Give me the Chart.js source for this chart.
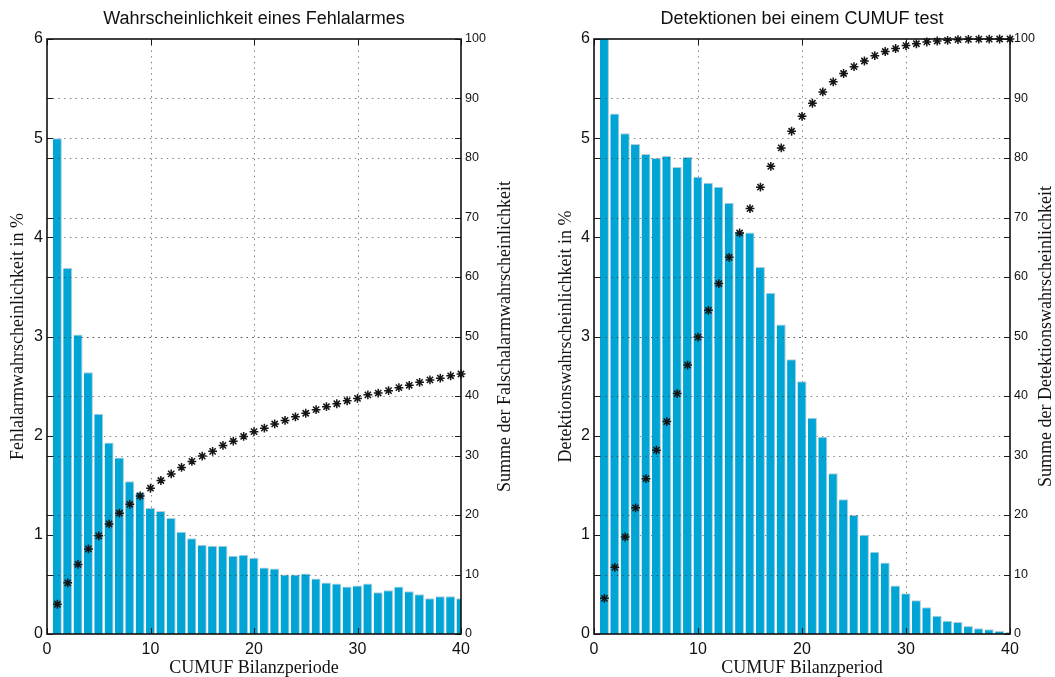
<!DOCTYPE html>
<html>
<head>
<meta charset="utf-8">
<title>CUMUF Bilanzperioden</title>
<script src="https://cdn.jsdelivr.net/npm/chart.js@4.4.1/dist/chart.umd.min.js"></script>
<style>
  html, body { margin: 0; padding: 0; background: #fff; }
  body { width: 1055px; height: 677px; position: relative; overflow: hidden; }
  canvas { position: absolute; top: 0; }
  #falseAlarm { left: 0; }
  #detection { left: 527px; }
</style>
</head>
<body>
<canvas id="falseAlarm" width="527" height="677"></canvas>
<canvas id="detection" width="528" height="677"></canvas>
<script>
// Bilanzperioden 1..40
const periods = [1, 2, 3, 4, 5, 6, 7, 8, 9, 10, 11, 12, 13, 14, 15, 16, 17, 18, 19, 20,
                 21, 22, 23, 24, 25, 26, 27, 28, 29, 30, 31, 32, 33, 34, 35, 36, 37, 38, 39, 40];

// Fehlalarmwahrscheinlichkeit je Periode in %
const falseAlarmPct = [5.00, 3.69, 3.02, 2.64, 2.22, 1.93, 1.78, 1.54, 1.43, 1.27,
                       1.24, 1.17, 1.03, 0.965, 0.90, 0.89, 0.89, 0.79, 0.80, 0.77,
                       0.67, 0.66, 0.60, 0.60, 0.61, 0.56, 0.52, 0.51, 0.48, 0.49,
                       0.51, 0.42, 0.44, 0.48, 0.43, 0.40, 0.36, 0.38, 0.38, 0.36];

// Summe der Falschalarmwahrscheinlichkeit in %
const falseAlarmSum = [5.0, 8.6, 11.7, 14.3, 16.5, 18.5, 20.3, 21.8, 23.2, 24.5,
                       25.8, 26.9, 28.0, 29.0, 29.9, 30.7, 31.7, 32.4, 33.2, 34.0,
                       34.6, 35.3, 35.9, 36.5, 37.1, 37.7, 38.2, 38.7, 39.2, 39.6,
                       40.2, 40.5, 40.9, 41.4, 41.8, 42.3, 42.7, 43.0, 43.4, 43.7];

// Detektionswahrscheinlichkeit je Periode in %
const detectionPct = [6.05, 5.25, 5.05, 4.94, 4.84, 4.80, 4.82, 4.71, 4.81, 4.61,
                      4.55, 4.51, 4.35, 4.06, 4.05, 3.70, 3.44, 3.12, 2.77, 2.55,
                      2.18, 1.99, 1.62, 1.36, 1.20, 1.00, 0.83, 0.72, 0.49, 0.41,
                      0.34, 0.27, 0.185, 0.134, 0.12, 0.08, 0.057, 0.047, 0.03, 0.02];

// Summe der Detektionswahrscheinlichkeit in %
const detectionSum = [6.0, 11.2, 16.3, 21.2, 26.1, 30.9, 35.7, 40.4, 45.2, 49.9,
                      54.4, 58.9, 63.3, 67.4, 71.5, 75.1, 78.6, 81.7, 84.5, 87.0,
                      89.2, 91.1, 92.8, 94.2, 95.35, 96.3, 97.2, 97.9, 98.4, 98.9,
                      99.2, 99.5, 99.66, 99.78, 99.89, 99.94, 99.97, 99.99, 100.0, 100.0];

// Achsenbeschriftungen
const periodTicks = [0, 10, 20, 30, 40];
const pctTicks = [0, 1, 2, 3, 4, 5, 6];
const sumTicks = [0, 10, 20, 30, 40, 50, 60, 70, 80, 90, 100];

const SANS = "'Liberation Sans', Arial, Helvetica, sans-serif";
const SERIF = "'Liberation Serif', 'Times New Roman', serif";
const BAR_BLUE = '#00a5d6';
const BAR_EDGE = '#b4ccd6';
const INK = '#111';
const GRID = 'rgba(50,50,50,0.6)';
const GRID_DASH = [1.5, 4.2];

function pointsOf(values) {
  return periods.map((p, i) => ({ x: p, y: values[i] }));
}

function fixedTicks(values) {
  return scale => { scale.ticks = values.map(v => ({ value: v })); };
}

function hLines(ctx, a, scale) {
  scale.ticks.forEach(t => {
    if (t.value <= scale.min || t.value >= scale.max) return;
    const py = Math.round(scale.getPixelForValue(t.value)) + 0.5;
    ctx.beginPath(); ctx.moveTo(a.left, py); ctx.lineTo(a.right, py); ctx.stroke();
  });
}

// Dotted grid, box frame with inward tick marks and the right-hand axis title
const axesBox = {
  id: 'axesBox',
  beforeDatasetsDraw(chart) {
    const { ctx, chartArea: a, scales: { x, y } } = chart;
    ctx.save();
    ctx.strokeStyle = GRID;
    ctx.lineWidth = 1;
    ctx.setLineDash(GRID_DASH);
    x.ticks.forEach(t => {
      if (t.value <= x.min || t.value >= x.max) return;
      const px = Math.round(x.getPixelForValue(t.value)) + 0.5;
      ctx.beginPath(); ctx.moveTo(px, a.top); ctx.lineTo(px, a.bottom); ctx.stroke();
    });
    hLines(ctx, a, y);
    ctx.restore();
  },
  beforeDatasetDraw(chart, args) {
    if (args.index !== 0) return;
    const { ctx, chartArea: a, scales: { y2 } } = chart;
    ctx.save();
    ctx.strokeStyle = GRID;
    ctx.lineWidth = 1;
    ctx.setLineDash(GRID_DASH);
    hLines(ctx, a, y2);
    ctx.restore();
  },
  afterDatasetsDraw(chart, args, opts) {
    const { ctx, chartArea: a, scales: { x, y, y2 } } = chart;
    const len = 6;
    ctx.save();
    ctx.setLineDash([]);
    ctx.strokeStyle = '#1a1a1a';
    ctx.lineWidth = 1;
    ctx.beginPath();
    x.ticks.forEach(t => {
      const px = Math.round(x.getPixelForValue(t.value)) + 0.5;
      ctx.moveTo(px, a.bottom); ctx.lineTo(px, a.bottom - len);
      ctx.moveTo(px, a.top); ctx.lineTo(px, a.top + len);
    });
    [y, y2].forEach(s => s.ticks.forEach(t => {
      const py = Math.round(s.getPixelForValue(t.value)) + 0.5;
      ctx.moveTo(a.left, py); ctx.lineTo(a.left + len, py);
      ctx.moveTo(a.right, py); ctx.lineTo(a.right - len, py);
    }));
    ctx.stroke();
    ctx.lineWidth = 1.6;
    ctx.strokeStyle = '#111';
    ctx.strokeRect(a.left, a.top, a.right - a.left, a.bottom - a.top);

    ctx.fillStyle = INK;
    ctx.font = '18px ' + SERIF;
    ctx.textAlign = 'center';
    ctx.textBaseline = 'middle';
    ctx.translate(a.right + opts.titleOffset, (a.top + a.bottom) / 2);
    ctx.rotate(-Math.PI / 2);
    ctx.fillText(opts.rightTitle, 0, 0);
    ctx.restore();
  }
};

function buildChart(id, cfg) {
  return new Chart(document.getElementById(id), {
    type: 'bar',
    data: {
      datasets: [
        {
          type: 'line',
          data: pointsOf(cfg.sum),
          yAxisID: 'y2',
          showLine: false,
          pointStyle: 'star',
          pointRadius: 4.4,
          borderWidth: 1.5,
          borderColor: '#151515',
          backgroundColor: '#151515',
          clip: false
        },
        {
          type: 'bar',
          data: pointsOf(cfg.pct),
          yAxisID: 'y',
          backgroundColor: BAR_BLUE,
          borderColor: BAR_EDGE,
          borderWidth: { top: 1, right: 1, left: 0, bottom: 0 },
          borderSkipped: 'start',
          barPercentage: 0.87,
          categoryPercentage: 1,
          clip: 0
        }
      ]
    },
    options: {
      responsive: false,
      animation: false,
      events: [],
      devicePixelRatio: 1,
      layout: { padding: 0 },
      plugins: {
        legend: { display: false },
        tooltip: { enabled: false },
        title: {
          display: true,
          text: cfg.title,
          fullSize: false,
          color: INK,
          font: { family: SANS, size: 18, weight: 'normal', lineHeight: 1.2 },
          padding: { top: 8, bottom: 9.4 }
        },
        axesBox: { rightTitle: cfg.rightTitle, titleOffset: cfg.rightTitleOffset }
      },
      scales: {
        x: {
          type: 'linear',
          min: 0, max: 40,
          offset: false,
          afterBuildTicks: fixedTicks(periodTicks),
          grid: { display: false, drawTicks: false, offset: false },
          border: { display: false },
          ticks: { color: INK, font: { family: SANS, size: 16 }, padding: 6, maxRotation: 0 },
          title: {
            display: true, text: cfg.xTitle, color: INK,
            font: { family: SERIF, size: 18, lineHeight: 1 }, padding: 0
          },
          afterFit: s => { s.height = 43; }
        },
        y: {
          position: 'left',
          min: 0, max: 6,
          afterBuildTicks: fixedTicks(pctTicks),
          grid: { display: false, drawTicks: false },
          border: { display: false },
          ticks: { color: INK, font: { family: SANS, size: 16 }, padding: 4 },
          title: {
            display: true, text: cfg.leftTitle, color: INK,
            font: { family: SERIF, size: 18, lineHeight: 1 }, padding: { top: cfg.leftTitlePad, bottom: 0 }
          },
          afterFit: s => { s.width = cfg.leftWidth; }
        },
        y2: {
          position: 'right',
          min: 0, max: 100,
          afterBuildTicks: fixedTicks(sumTicks),
          grid: { display: false, drawTicks: false },
          border: { display: false },
          ticks: { color: INK, font: { family: SANS, size: 12.5 }, padding: 4 },
          afterFit: s => { s.width = cfg.rightWidth; }
        }
      }
    },
    plugins: [axesBox]
  });
}

buildChart('falseAlarm', {
  pct: falseAlarmPct,
  sum: falseAlarmSum,
  title: 'Wahrscheinlichkeit eines Fehlalarmes',
  xTitle: 'CUMUF Bilanzperiode',
  leftTitle: 'Fehlalarmwahrscheinlichkeit in %',
  rightTitle: 'Summe der Falschalarmwahrscheinlichkeit',
  leftWidth: 47,
  rightWidth: 66,
  leftTitlePad: 9,
  rightTitleOffset: 44
});

buildChart('detection', {
  pct: detectionPct,
  sum: detectionSum,
  title: 'Detektionen bei einem CUMUF test',
  xTitle: 'CUMUF Bilanzperiod',
  leftTitle: 'Detektionswahrscheinlichkeit in %',
  rightTitle: 'Summe der Detektionswahrscheinlichkeit',
  leftWidth: 67,
  rightWidth: 45,
  leftTitlePad: 30,
  rightTitleOffset: 36
});
</script>
</body>
</html>
